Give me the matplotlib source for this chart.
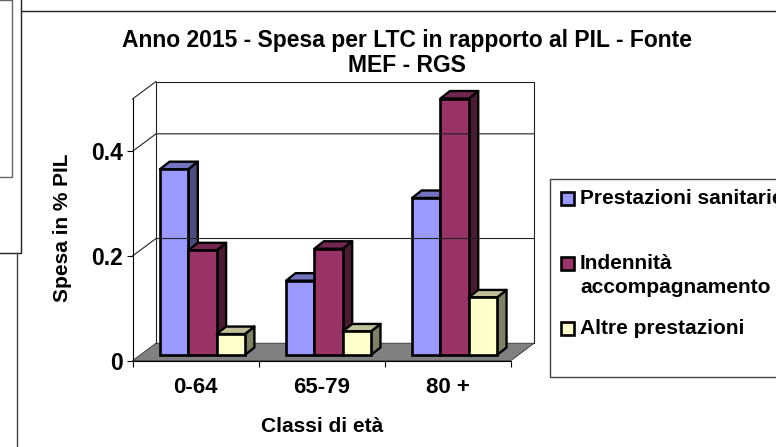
import matplotlib
matplotlib.use('Agg')
import matplotlib.pyplot as plt
from matplotlib.patches import Polygon, Rectangle

plt.rcParams['font.family'] = ['Liberation Sans', 'DejaVu Sans']
plt.rcParams['font.weight'] = 'bold'

categories = ['0-64', '65-79', '80 +']
sanitarie = [0.355, 0.142, 0.30]
indennita = [0.20, 0.203, 0.49]
altre = [0.04, 0.045, 0.11]
series_names = ['Prestazioni sanitarie', 'Indennità\naccompagnamento', 'Altre prestazioni']
y_ticks = [0, 0.2, 0.4]
y_tick_labels = ['0', '0.2', '0.4']

faces = ['#9999FF', '#993366', '#FFFFCC']
tops = ['#7373BF', '#732650', '#BFBF99']
sides = ['#4D4D80', '#4D1A33', '#808066']

W, H = 776, 447
fig = plt.figure(figsize=(W / 100, H / 100), dpi=100)

# overlay in pixels for the frames around the chart
bg = fig.add_axes([0, 0, 1, 1])
bg.set_xlim(0, W)
bg.set_ylim(H, 0)
bg.axis('off')
bg.plot([0, 12, 12, 0], [0, 0, 177, 177], color='#666666', lw=1)
bg.plot([20.5, 20.5, 0], [0, 253, 253], color='#222222', lw=1)
bg.plot([20.5, W], [10.5, 10.5], color='#222222', lw=1)
bg.plot([17, 17], [253, H], color='#444444', lw=1)

# front plane of the 3d box
left, right, top, bottom = 132.5, 510.7, 99, 360.7
ax = fig.add_axes([left / W, 1 - bottom / H, (right - left) / W, (bottom - top) / H])
ax.patch.set_alpha(0)
ax.set_xlim(0, 3)
ax.set_ylim(0, 0.5)
for s in ['top', 'right']:
    ax.spines[s].set_visible(False)
ax.spines['left'].set_linewidth(0.8)
ax.spines['bottom'].set_linewidth(0.8)

ux = 3 / (right - left)
uy = 0.5 / (bottom - top)
dep_x = 23.5 * ux
dep_y = 17.5 * uy

# walls and floor
ax.add_patch(Polygon([(0, 0), (3, 0), (3 + dep_x, dep_y), (dep_x, dep_y)],
                     closed=True, facecolor='#808080', edgecolor='#333333', lw=0.6, clip_on=False))
ax.plot([dep_x, dep_x, 3 + dep_x, 3 + dep_x], [dep_y, 0.5 + dep_y, 0.5 + dep_y, dep_y],
        color='#222222', lw=0.8, clip_on=False)
ax.plot([0, dep_x], [0.5, 0.5 + dep_y], color='#222222', lw=0.8, clip_on=False)
for t in y_ticks[1:]:
    ax.plot([0, dep_x, 3 + dep_x], [t, t + dep_y, t + dep_y], color='#222222', lw=0.8, clip_on=False)

# bars
bar_w = 28.3 * ux
bar_dx = 9.5 * ux
bar_dy = 7.5 * uy
base = 5.7 * uy
start = 27.5 * ux
for c in range(len(categories)):
    for k, vals in enumerate([sanitarie, indennita, altre]):
        x0 = c + start + k * bar_w
        v = vals[c] + base
        ax.add_patch(Polygon([(x0 + bar_w, base), (x0 + bar_w + bar_dx, base + bar_dy),
                              (x0 + bar_w + bar_dx, v + bar_dy), (x0 + bar_w, v)],
                             closed=True, facecolor=sides[k], edgecolor='black', lw=1.7,
                             clip_on=False, joinstyle='round'))
        ax.add_patch(Polygon([(x0, v), (x0 + bar_w, v), (x0 + bar_w + bar_dx, v + bar_dy),
                              (x0 + bar_dx, v + bar_dy)],
                             closed=True, facecolor=tops[k], edgecolor='black', lw=1.7,
                             clip_on=False, joinstyle='round'))
        ax.bar(x0, vals[c], bar_w, bottom=base, align='edge', color=faces[k],
               edgecolor='black', linewidth=1.9, clip_on=False)

ax.set_yticks(y_ticks)
ax.set_yticklabels(y_tick_labels, fontsize=16.5, fontweight='bold')
ax.tick_params(axis='y', length=4, width=0.8, pad=3)
ax.set_xticks([0, 1, 2, 3])
ax.set_xticklabels([])
ax.tick_params(axis='x', length=4, width=0.8)
for i, name in enumerate(categories):
    ax.text(i + 0.5, -0.051, name, ha='center', va='center', fontsize=16, fontweight='bold')

# titles placed in pixel positions
bg.text(407, 40, 'Anno 2015 - Spesa per LTC in rapporto al PIL - Fonte', ha='center', va='center',
        fontsize=16.5, fontweight='bold')
bg.text(407, 65, 'MEF - RGS', ha='center', va='center', fontsize=16.5, fontweight='bold')
bg.text(62, 228, 'Spesa in % PIL', rotation=90, ha='center', va='center', fontsize=15, fontweight='bold')
bg.text(322, 426, 'Classi di età', ha='center', va='center', fontsize=15, fontweight='bold')

# legend
bg.add_patch(Rectangle((549.5, 179), 240, 197.7, facecolor='white', edgecolor='#444444', lw=1))
box_y = [192, 256.7, 322]
text_y = [199, 275.5, 329]
for k in range(3):
    bg.add_patch(Rectangle((560.5, box_y[k]), 13, 13, facecolor=faces[k], edgecolor='black', lw=1.9))
    bg.text(580, text_y[k], series_names[k], ha='left', va='center', fontsize=15,
            fontweight='bold', linespacing=1.35, clip_on=True)

plt.savefig('out.png', dpi=100)
